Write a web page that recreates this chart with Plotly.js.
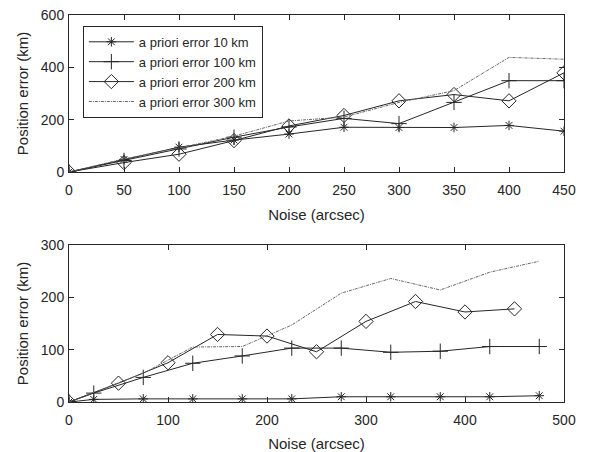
<!DOCTYPE html>
<html>
<head>
<meta charset="utf-8">
<script src="https://cdn.plot.ly/plotly-3.0.1.min.js"></script>
<style>html,body{margin:0;padding:0;background:#fff;}#chart{width:590px;height:452px;}</style>
</head>
<body>
<div id="chart"></div>
<script>
// Top panel
const topNoise = [0, 50, 100, 150, 200, 250, 300, 350, 400, 450];
const top10km  = [0, 48, 95, 122, 145, 171, 170, 170, 178, 156];
const top100km = [0, 44, 88, 133, 172, 205, 185, 266, 349, 349];
const top200km = [0, 36, 68, 120, 176, 216, 272, 296, 272, 379];
const top300km = [0, 50, 92, 137, 195, 210, 266, 311, 438, 431];

// Bottom panel
const botNoiseA = [0, 25, 75, 125, 175, 225, 275, 325, 375, 425, 475];
const bot10km   = [0, 5, 6, 6, 6, 6, 10, 10, 10, 10, 12];
const bot100km  = [0, 17, 47, 74, 88, 103, 103, 95, 97, 106, 106];
const bot300km  = [0, 18, 55, 105, 106, 147, 208, 236, 214, 248, 269];
const botNoiseB = [0, 50, 100, 150, 200, 250, 300, 350, 400, 450];
const bot200km  = [0, 36, 75, 129, 126, 96, 154, 192, 172, 178];

const seriesNames = ['a priori error 10 km', 'a priori error 100 km', 'a priori error 200 km', 'a priori error 300 km'];
const topTicksX = [0, 50, 100, 150, 200, 250, 300, 350, 400, 450];
const botTicksX = [0, 100, 200, 300, 400, 500];
const topTicksY = [0, 200, 400, 600];
const botTicksY = [0, 100, 200, 300];

const ink = '#262626';
const styles = [
  {mode: 'lines+markers', line: {color: ink, width: 1}, marker: {symbol: 'asterisk-open', size: 8, color: ink, line: {color: ink, width: 1}}},
  {mode: 'lines+markers', line: {color: ink, width: 1}, marker: {symbol: 'cross-thin-open', size: 11, color: ink, line: {color: ink, width: 1}}},
  {mode: 'lines+markers', line: {color: ink, width: 1}, marker: {symbol: 'diamond-open', size: 11, color: ink, line: {color: ink, width: 1}}},
  {mode: 'lines', line: {color: '#666', width: 1, dash: '3px,1px,1px,1px'}}
];

function tr(x, y, i, axis, show) {
  return Object.assign({x: x, y: y, name: seriesNames[i], xaxis: 'x' + axis, yaxis: 'y' + axis, showlegend: show, type: 'scatter'}, styles[i]);
}

const data = [
  tr(topNoise, top10km, 0, '', true),
  tr(topNoise, top100km, 1, '', true),
  tr(topNoise, top200km, 2, '', true),
  tr(topNoise, top300km, 3, '', true),
  tr(botNoiseA, bot10km, 0, '2', false),
  tr(botNoiseA, bot100km, 1, '2', false),
  tr(botNoiseB, bot200km, 2, '2', false),
  tr(botNoiseA, bot300km, 3, '2', false)
];

const fontFam = '"Liberation Sans", Arial, Helvetica, sans-serif';
function ax(extra) {
  return Object.assign({
    showline: true, mirror: 'ticks', linecolor: ink, linewidth: 1,
    ticks: 'inside', ticklen: 5, tickwidth: 1, tickcolor: ink,
    showgrid: false, zeroline: false, tickmode: 'array', automargin: false,
    tickfont: {family: fontFam, size: 14, color: ink}
  }, extra);
}
const titleFont = {family: fontFam, size: 15, color: ink};

const layout = {
  width: 590, height: 452,
  margin: {l: 69, r: 26, t: 15, b: 50},
  paper_bgcolor: '#fff', plot_bgcolor: '#fff',
  font: {family: fontFam, color: ink},
  showlegend: true,
  legend: {x: 0.028, y: 0.972, xanchor: 'left', yanchor: 'top', bgcolor: '#fff', bordercolor: ink, borderwidth: 1,
           itemwidth: 45, font: {family: fontFam, size: 13, color: ink}, tracegroupgap: 0},
  xaxis: ax({domain: [0, 1], anchor: 'y', range: [0, 450], tickvals: topTicksX, ticklabelstandoff: 5,
             title: {text: 'Noise (arcsec)', standoff: 12, font: titleFont}}),
  yaxis: ax({domain: [0.5943, 1], anchor: 'x', range: [0, 600], tickvals: topTicksY, ticklabelstandoff: 1,
             title: {text: 'Position error (km)', standoff: 8, font: titleFont}}),
  xaxis2: ax({domain: [0, 1], anchor: 'y2', range: [0, 500], tickvals: botTicksX, ticklabelstandoff: 5,
             title: {text: 'Noise (arcsec)', standoff: 12, font: titleFont}}),
  yaxis2: ax({domain: [0, 0.4057], anchor: 'x2', range: [0, 300], tickvals: botTicksY, ticklabelstandoff: 1,
             title: {text: 'Position error (km)', standoff: 8, font: titleFont}})
};

Plotly.newPlot('chart', data, layout, {displayModeBar: false, staticPlot: true});
</script>
</body>
</html>
